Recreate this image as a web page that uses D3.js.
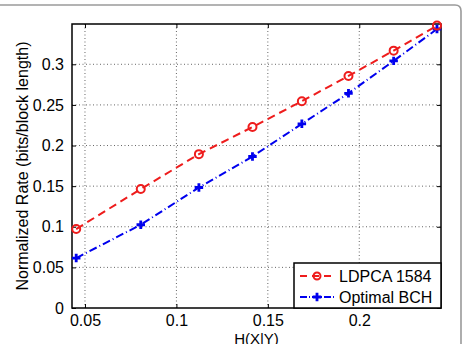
<!DOCTYPE html>
<html>
<head>
<meta charset="utf-8">
<script src="https://cdn.jsdelivr.net/npm/d3@7"></script>
<style>
  body { margin: 0; background: #fff; }
  svg { display: block; font-family: "Liberation Sans", Arial, sans-serif; }
</style>
</head>
<body>
<svg id="chart"></svg>
<script>
// H(X|Y) sample points
const entropy = [0.0452, 0.0805, 0.1123, 0.1416, 0.1686, 0.1941, 0.2188, 0.2425];
const ldpcaRate = [0.0972, 0.1464, 0.1894, 0.2228, 0.2546, 0.2856, 0.3168, 0.3476];
const bchRate = [0.0615, 0.1025, 0.1483, 0.1865, 0.2267, 0.2643, 0.3042, 0.3434];
const xTicks = [0.05, 0.1, 0.15, 0.2];
const yTicks = [0, 0.05, 0.1, 0.15, 0.2, 0.25, 0.3];
const seriesNames = ["LDPCA 1584", "Optimal BCH"];

const svgWidth = 466, svgHeight = 344;
const margin = { top: 24, right: 25, bottom: 36, left: 72 };
const width = svgWidth - margin.left - margin.right;
const height = svgHeight - margin.top - margin.bottom;

const svg = d3.select("#chart")
  .attr("width", svgWidth)
  .attr("height", svgHeight);

// figure frame (rounded, cut by the picture edge)
svg.append("path")
  .attr("d", "M-5,5 H455 Q461,5 461,11 V350")
  .attr("fill", "none")
  .attr("stroke", "#9a9a9a")
  .attr("stroke-width", 1.6);

const g = svg.append("g")
  .attr("transform", `translate(${margin.left},${margin.top})`);

const xs = d3.scaleLinear().domain([0.0429, 0.2447]).range([0, width]);
const ys = d3.scaleLinear().domain([0, 0.3496]).range([height, 0]);

// dotted grid
g.append("g").selectAll("line").data(xTicks).join("line")
  .attr("x1", d => xs(d)).attr("x2", d => xs(d))
  .attr("y1", 0).attr("y2", height)
  .attr("stroke", "#666").attr("stroke-width", 1)
  .attr("stroke-dasharray", "1,2.5");
g.append("g").selectAll("line").data(yTicks.slice(1)).join("line")
  .attr("x1", 0).attr("x2", width)
  .attr("y1", d => ys(d)).attr("y2", d => ys(d))
  .attr("stroke", "#666").attr("stroke-width", 1)
  .attr("stroke-dasharray", "1,2.5");

// axes with inward ticks, box on
const fmt = d => d === 0 ? "0" : String(d);
const styleAxis = sel => {
  sel.select(".domain").remove();
  sel.selectAll(".tick line").attr("stroke", "#000").attr("stroke-width", 1);
  sel.selectAll(".tick text").attr("fill", "#000").attr("font-size", 16)
    .attr("font-family", "Liberation Sans, Arial, sans-serif");
};
g.append("g")
  .attr("transform", `translate(0,${height})`)
  .call(d3.axisBottom(xs).tickValues(xTicks).tickFormat(fmt).tickSizeInner(-4).tickPadding(7))
  .call(styleAxis);
g.append("g")
  .call(d3.axisLeft(ys).tickValues(yTicks).tickFormat(fmt).tickSizeInner(-4).tickPadding(8))
  .call(styleAxis);
g.append("g")
  .call(d3.axisTop(xs).tickValues(xTicks).tickFormat("").tickSizeInner(-4))
  .call(styleAxis);
g.append("g")
  .attr("transform", `translate(${width},0)`)
  .call(d3.axisRight(ys).tickValues(yTicks).tickFormat("").tickSizeInner(-4))
  .call(styleAxis);

g.append("rect")
  .attr("width", width).attr("height", height)
  .attr("fill", "none").attr("stroke", "#000").attr("stroke-width", 1.5);

// series
const ldpca = entropy.map((x, i) => ({ x, y: ldpcaRate[i] }));
const bch = entropy.map((x, i) => ({ x, y: bchRate[i] }));
const line = d3.line().x(d => xs(d.x)).y(d => ys(d.y));

g.append("path")
  .datum(bch)
  .attr("fill", "none")
  .attr("stroke", "#0000ee")
  .attr("stroke-width", 2)
  .attr("stroke-dasharray", "8,3,1,3")
  .attr("d", line);
g.append("path")
  .datum(ldpca)
  .attr("fill", "none")
  .attr("stroke", "#ee1c1c")
  .attr("stroke-width", 2)
  .attr("stroke-dasharray", "8,5")
  .attr("d", line);

const cross = d3.symbol().type(d3.symbolCross).size(40);
g.append("g").selectAll("path").data(bch).join("path")
  .attr("transform", d => `translate(${xs(d.x)},${ys(d.y)})`)
  .attr("d", cross)
  .attr("fill", "#0000ee");
g.append("g").selectAll("circle").data(ldpca).join("circle")
  .attr("cx", d => xs(d.x)).attr("cy", d => ys(d.y))
  .attr("r", 4)
  .attr("fill", "none")
  .attr("stroke", "#ee1c1c")
  .attr("stroke-width", 2);

// legend
const lg = g.append("g").attr("transform", `translate(${width - 147},${height - 45})`);
lg.append("rect")
  .attr("width", 147).attr("height", 45)
  .attr("fill", "#fff").attr("stroke", "#000").attr("stroke-width", 1.5);
const rows = [
  { name: seriesNames[0], color: "#ee1c1c", dash: "7,5", y: 13 },
  { name: seriesNames[1], color: "#0000ee", dash: "7,2,1,2", y: 34 }
];
rows.forEach((r, i) => {
  lg.append("line")
    .attr("x1", 6).attr("x2", 40).attr("y1", r.y).attr("y2", r.y)
    .attr("stroke", r.color).attr("stroke-width", 2)
    .attr("stroke-dasharray", r.dash);
  if (i === 0) {
    lg.append("circle").attr("cx", 23).attr("cy", r.y).attr("r", 3.5)
      .attr("fill", "none").attr("stroke", r.color).attr("stroke-width", 2);
  } else {
    lg.append("path").attr("transform", `translate(23,${r.y})`)
      .attr("d", cross).attr("fill", r.color);
  }
  lg.append("text")
    .attr("x", 45).attr("y", r.y).attr("dy", "0.36em")
    .attr("font-size", 16).attr("fill", "#000")
    .text(r.name);
});

// axis labels (the reference cuts the x label at the bottom edge too)
svg.append("text")
  .attr("x", margin.left + width / 2).attr("y", 343.5)
  .attr("text-anchor", "middle").attr("font-size", 15)
  .text("H(X|Y)");
svg.append("text")
  .attr("transform", `translate(28,${margin.top + height / 2}) rotate(-90)`)
  .attr("text-anchor", "middle").attr("font-size", 16)
  .text("Normalized Rate (bits/block length)");
</script>
</body>
</html>
